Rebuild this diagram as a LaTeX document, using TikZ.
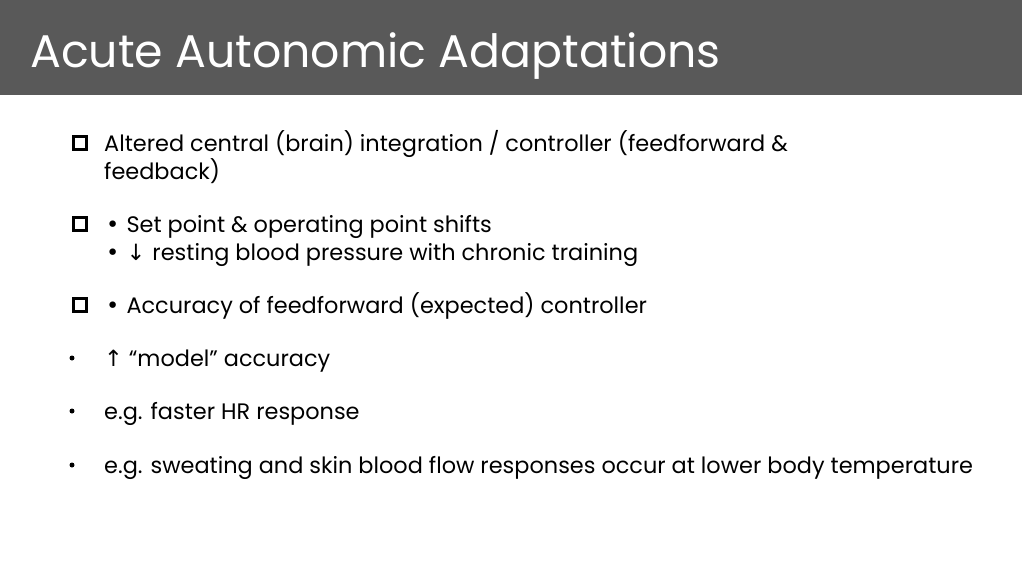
\documentclass[tikz,border=0pt]{standalone}
\usepackage{fontspec}
\setmainfont{Poppins}
\newfontfamily\sym{DejaVu Sans}
\begin{document}
\begin{tikzpicture}[x=1pt,y=-1pt,
  txt/.style={anchor=base west,inner sep=0pt,font=\fontsize{22.4}{28}\selectfont,text=black},
  sq/.style={draw=black,line width=3.2pt,minimum size=13pt,inner sep=0pt},
  dot/.style={circle,fill=black,minimum size=5pt,inner sep=0pt}]
\useasboundingbox (0,0) rectangle (1022,568);
\fill[white] (0,0) rectangle (1022,568);
\fill[black!65] (0,0) rectangle (1022,95);
\node[anchor=base west,inner sep=0pt,text=white,font=\fontsize{45.8}{50}\selectfont] (title) at (30,67) {Acute Autonomic Adaptations};
\node[sq] (s1) at (80,143) {};
\node[txt] (t1) at (104,151) {Altered central (brain) integration / controller (feedforward \&};
\node[txt] (t1b) at (104,179) {feedback)};
\node[sq] (s2) at (80,224) {};
\node[txt] (t2) at (106,232) {\sym•\ \rmfamily Set point \& operating point shifts};
\node[txt] (t2b) at (106,260) {\sym• ↓\ \rmfamily resting blood pressure with chronic training};
\node[sq] (s3) at (80,305) {};
\node[txt] (t3) at (106,313) {\sym•\ \rmfamily Accuracy of feedforward (expected) controller};
\node[dot] (d1) at (72,358) {};
\node[txt] (t4) at (104,366) {{\sym↑}\ “model” accuracy};
\node[dot] (d2) at (72,411) {};
\node[txt] (t5) at (104,419) {e.g. faster HR response};
\node[dot] (d3) at (72,465) {};
\node[txt] (t6) at (104,473) {e.g. sweating and skin blood flow responses occur at lower body temperature};
\end{tikzpicture}
\end{document}
